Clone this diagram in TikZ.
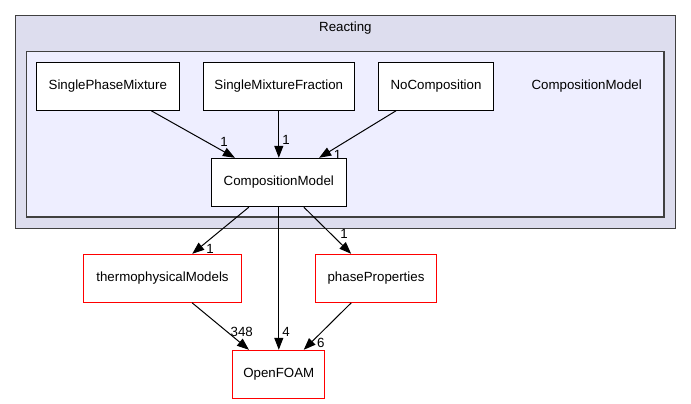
\documentclass[tikz,border=0pt]{standalone}
\usepackage{fontspec}
\setmainfont{Liberation Sans}
\usetikzlibrary{arrows.meta}
\definecolor{outerfill}{HTML}{DDDDEE}
\definecolor{innerfill}{HTML}{EEEEFF}
\definecolor{clusterline}{HTML}{404040}
\tikzset{
  txt/.style={font=\fontsize{13.3}{15}\selectfont, inner sep=0pt},
  box/.style={txt, draw=black, fill=white, line width=1pt, minimum height=48pt},
  extbox/.style={txt, draw=red, fill=white, line width=1pt, minimum height=48pt},
  dep/.style={draw=black, line width=1pt, -{Triangle[length=12pt,width=9pt]}},
  lbl/.style={txt},
  cluster/.style={draw=clusterline, line width=1.2pt}
}
\begin{document}
\begin{tikzpicture}[x=1pt,y=-1pt]
\useasboundingbox (0,0) rectangle (691,404);
\fill[white] (0,0) rectangle (691,404);
% clusters
\draw[cluster, fill=outerfill] (15.5,15.5) rectangle (675.5,228.5);
\node[txt] (reacting) at (345.4,28) {Reacting};
\draw[cluster, fill=innerfill] (26.7,51.7) rectangle (664,217);
\node[txt] (cmlabel) at (586.7,86) {CompositionModel};
% nodes
\node[box, minimum width=143pt] (spm) at (107.8,86.3) {SinglePhaseMixture};
\node[box, minimum width=150.8pt] (smf) at (278.8,86.3) {SingleMixtureFraction};
\node[box, minimum width=115pt] (noc) at (436,86.3) {NoComposition};
\node[box, minimum width=134.5pt, minimum height=48.4pt] (cm) at (278.8,182.5) {CompositionModel};
\node[extbox, minimum width=157.5pt] (thermo) at (162.5,278.3) {thermophysicalModels};
\node[extbox, minimum width=120.5pt] (phase) at (376,278.3) {phaseProperties};
\node[extbox, minimum width=91.8pt, minimum height=48.4pt] (of) at (278.8,374.5) {OpenFOAM};
% edges
\draw[dep] (spm) -- (cm);
\draw[dep] (smf) -- (cm);
\draw[dep] (noc) -- (cm);
\draw[dep] (cm) -- (thermo);
\draw[dep] (cm) -- (of);
\draw[dep] (cm) -- (phase);
\draw[dep] (thermo) -- (of);
\draw[dep] (phase) -- (of);
% labels
\node[lbl] (l1) at (224,141.5) {1};
\node[lbl] (l2) at (286,139.5) {1};
\node[lbl] (l3) at (337.5,155) {1};
\node[lbl] (l4) at (210,248.5) {1};
\node[lbl] (l5) at (344,234) {1};
\node[lbl] (l6) at (241.7,332) {348};
\node[lbl] (l7) at (286,332) {4};
\node[lbl] (l8) at (320.7,342.7) {6};
\end{tikzpicture}
\end{document}
